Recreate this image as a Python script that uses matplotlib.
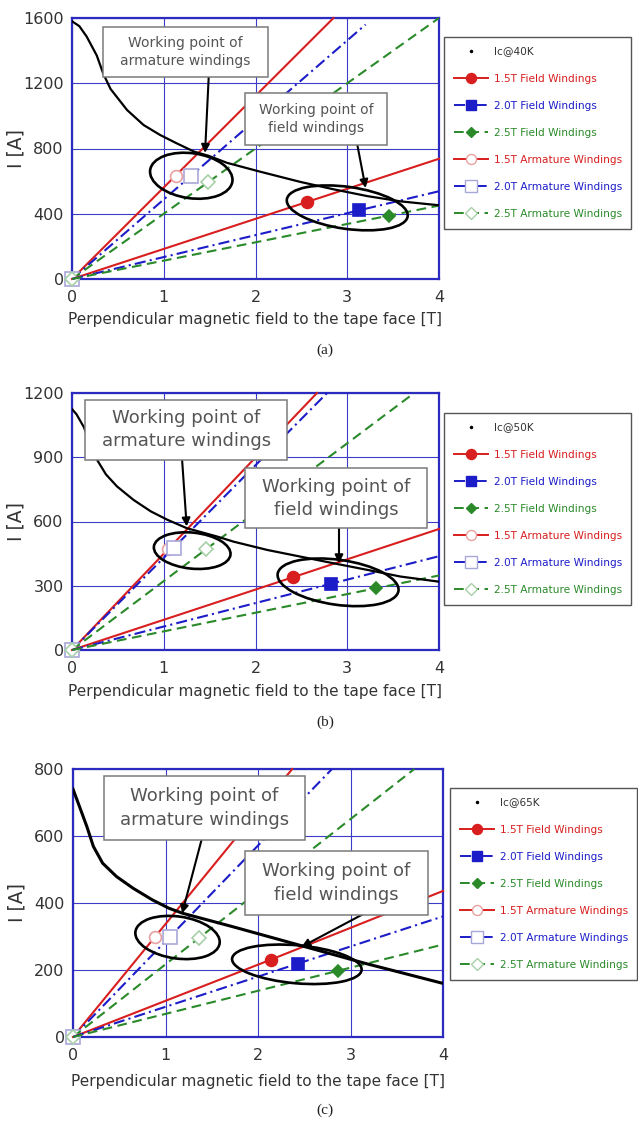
import matplotlib
matplotlib.use("Agg")
import matplotlib.pyplot as plt
import matplotlib.transforms as mtransforms
from matplotlib.patches import Ellipse, Rectangle
from matplotlib.lines import Line2D

plt.rcParams['font.family'] = ['DejaVu Sans']
plt.rcParams['lines.scale_dashes'] = False

DPI = 100

# ---------------- data ----------------
b_ticks = [0, 1, 2, 3, 4]
i_ticks_40 = [0, 400, 800, 1200, 1600]
i_ticks_50 = [0, 300, 600, 900, 1200]
i_ticks_65 = [0, 200, 400, 600, 800]

series_labels = ['1.5T Field Windings', '2.0T Field Windings', '2.5T Field Windings',
                 '1.5T Armature Windings', '2.0T Armature Windings', '2.5T Armature Windings']

# critical current of the tape vs perpendicular field
ic40_b = [0, 0.08, 0.16, 0.27, 0.34, 0.42, 0.60, 0.78, 0.96, 1.14, 1.33, 1.49, 1.69, 2.05, 2.49, 2.85, 3.22, 3.58, 4.0]
ic40_i = [1580, 1550, 1486, 1370, 1260, 1165, 1036, 944, 883, 832, 781, 755, 712, 658, 595, 550, 508, 476, 452]

ic50_b = [0, 0.05, 0.13, 0.20, 0.27, 0.37, 0.49, 0.67, 0.86, 1.04, 1.25, 1.58, 1.76, 2.13, 2.49, 2.85, 3.22, 3.58, 4.0]
ic50_i = [1125, 1100, 1040, 960, 890, 820, 764, 701, 647, 608, 569, 530, 506, 467, 436, 405, 374, 343, 319]

ic65_b = [0, 0.07, 0.15, 0.22, 0.32, 0.47, 0.65, 0.86, 1.04, 1.19, 1.73, 2.45, 3.17, 4.0]
ic65_i = [740, 688, 628, 569, 519, 479, 444, 409, 384, 369, 329, 274, 219, 160]

# load lines: origin, working point, end of drawn segment  (B [T], I [A])
f15_40_b = [0, 2.56, 4.0];  f15_40_i = [0, 472, 737]
f20_40_b = [0, 3.13, 4.0];  f20_40_i = [0, 421, 538]
f25_40_b = [0, 3.45, 4.0];  f25_40_i = [0, 388, 450]
a15_40_b = [0, 1.13, 2.85]; a15_40_i = [0, 634, 1600]
a20_40_b = [0, 1.30, 3.20]; a20_40_i = [0, 634, 1560]
a25_40_b = [0, 1.48, 4.0];  a25_40_i = [0, 592, 1600]

f15_50_b = [0, 2.41, 4.0];  f15_50_i = [0, 340, 565]
f20_50_b = [0, 2.82, 4.0];  f20_50_i = [0, 309, 438]
f25_50_b = [0, 3.31, 4.0];  f25_50_i = [0, 288, 348]
a15_50_b = [0, 1.05, 2.67]; a15_50_i = [0, 472, 1200]
a20_50_b = [0, 1.11, 2.78]; a20_50_i = [0, 478, 1200]
a25_50_b = [0, 1.46, 3.73]; a25_50_i = [0, 470, 1200]

f15_65_b = [0, 2.14, 4.0];  f15_65_i = [0, 231, 436]
f20_65_b = [0, 2.43, 4.0];  f20_65_i = [0, 219, 360]
f25_65_b = [0, 2.87, 4.0];  f25_65_i = [0, 198, 276]
a15_65_b = [0, 0.89, 2.37]; a15_65_i = [0, 300, 800]
a20_65_b = [0, 1.05, 2.80]; a20_65_i = [0, 300, 800]
a25_65_b = [0, 1.36, 3.69]; a25_65_i = [0, 295, 800]

# ---------------- styles ----------------
RED = '#d81e1e'
BLUE = '#1c1cc8'
GREEN = '#2a8a2a'
DASHDOT = (0, (8, 3, 1.5, 3))
DASHED = (0, (7, 4))

styles = [
    dict(color=RED, ls='-', marker='o', ms=8.5, mfc=RED, mec=RED),
    dict(color=BLUE, ls=DASHDOT, marker='s', ms=9, mfc=BLUE, mec=BLUE),
    dict(color=GREEN, ls=DASHED, marker='D', ms=6.5, mfc=GREEN, mec=GREEN),
    dict(color=RED, ls='-', marker='o', ms=8.5, mfc='white', mec='#e8a0a0'),
    dict(color=BLUE, ls=DASHDOT, marker='s', ms=9.5, mfc='white', mec='#a8a8d8'),
    dict(color=GREEN, ls=DASHED, marker='D', ms=7, mfc='white', mec='#a8d0a8'),
]
label_colors = ['#333333', RED, BLUE, GREEN, RED, BLUE, GREEN]

fig = plt.figure(figsize=(6.38, 11.21), dpi=DPI)
W, H = 638.0, 1121.0


def axes_px(left, right, top, bottom):
    return fig.add_axes([left / W, 1 - bottom / H, (right - left) / W, (bottom - top) / H])


def ring(ax, cx, cy, w_px, h_px, ang):
    tr = fig.dpi_scale_trans + mtransforms.ScaledTranslation(cx, cy, ax.transData)
    ax.add_patch(Ellipse((0, 0), w_px / DPI, h_px / DPI, angle=ang, transform=tr,
                         fill=False, lw=1.9, ec='black', zorder=6, clip_on=False))


def note(ax, x0, x1, y0, y1, text, fs, lsp):
    ax.add_patch(Rectangle((x0, y0), x1 - x0, y1 - y0, fc='white', ec='#7a7a7a',
                           lw=1.1, zorder=8, clip_on=False))
    ax.text((x0 + x1) / 2, (y0 + y1) / 2, text, ha='center', va='center', fontsize=fs,
            color='#555555', linespacing=lsp, zorder=9)


def arrow(ax, start, tip):
    ax.annotate('', xy=tip, xytext=start,
                arrowprops=dict(arrowstyle='-|>', color='black', lw=1.5,
                                mutation_scale=12, shrinkA=0, shrinkB=0),
                zorder=7)


def panel(ax, ymax, yticks, ic_b, ic_i, ic_lw, lines, ic_label, legend_anchor):
    ax.set_xlim(0, 4)
    ax.set_ylim(0, ymax)
    ax.set_xticks(b_ticks)
    ax.set_yticks(yticks)
    ax.grid(True, color='#3c3cc8', lw=0.8)
    ax.set_axisbelow(True)
    for sp in ax.spines.values():
        sp.set_color('#2b2bbf')
        sp.set_linewidth(1.6)
    ax.tick_params(length=0, labelsize=11.5, labelcolor='#333333')
    ax.tick_params(axis='x', pad=8)
    ax.tick_params(axis='y', pad=6)

    for k, ((bx, iy), st) in enumerate(zip(lines, styles)):
        every = [1] if k < 3 else [0, 1]
        ax.plot(bx, iy, lw=1.5, mew=1.2, markevery=every, zorder=4 if k < 3 else 3,
                clip_on=False, **st)
    ax.plot(ic_b, ic_i, color='black', lw=ic_lw, zorder=5)

    handles = [Line2D([], [], ls='none', marker='.', color='black', ms=3)]
    for st in styles:
        s = dict(st)
        s['ms'] = s['ms'] * 0.85
        handles.append(Line2D([], [], lw=1.4, mew=1.0, **s))
    ax.legend(handles, [ic_label] + series_labels, loc='upper left',
              bbox_to_anchor=legend_anchor, borderaxespad=0, fontsize=7.6,
              labelcolor=label_colors, frameon=True, fancybox=False,
              edgecolor='#555555', framealpha=1, numpoints=1, handlelength=3.3,
              handletextpad=0.5, labelspacing=1.62, borderpad=0.9)

    ax.set_xlabel('Perpendicular magnetic field to the tape face [T]', fontsize=11,
                  color='#333333', va='center')
    ax.set_ylabel('I [A]', fontsize=13.5, color='#333333', va='center')


# ---------------- (a) 40 K ----------------
ax_a = axes_px(72, 439, 18, 279)
panel(ax_a, 1600, i_ticks_40, ic40_b, ic40_i, 1.6,
      [(f15_40_b, f15_40_i), (f20_40_b, f20_40_i), (f25_40_b, f25_40_i),
       (a15_40_b, a15_40_i), (a20_40_b, a20_40_i), (a25_40_b, a25_40_i)],
      'Ic@40K', (1.014, 0.927))
ax_a.xaxis.set_label_coords(0.5, -0.157)
ax_a.yaxis.set_label_coords(-0.153, 0.5)
ring(ax_a, 1.30, 633, 83, 45, -8)
ring(ax_a, 3.00, 436, 122, 42, -8)
arrow(ax_a, (1.49, 1240), (1.45, 773))
arrow(ax_a, (3.11, 822), (3.20, 558))
note(ax_a, 0.338, 2.136, 1238, 1545, 'Working point of\narmature windings', 10, 1.4)
note(ax_a, 1.885, 3.433, 822, 1140, 'Working point of\nfield windings', 10, 1.4)

# ---------------- (b) 50 K ----------------
ax_b = axes_px(72, 439, 393, 650)
panel(ax_b, 1200, i_ticks_50, ic50_b, ic50_i, 1.6,
      [(f15_50_b, f15_50_i), (f20_50_b, f20_50_i), (f25_50_b, f25_50_i),
       (a15_50_b, a15_50_i), (a20_50_b, a20_50_i), (a25_50_b, a25_50_i)],
      'Ic@50K', (1.014, 0.922))
ax_b.xaxis.set_label_coords(0.5, -0.162)
ax_b.yaxis.set_label_coords(-0.153, 0.5)
ring(ax_b, 1.31, 464, 77, 36, -6)
ring(ax_b, 2.90, 316, 122, 45, -8)
arrow(ax_b, (1.20, 888), (1.25, 577))
arrow(ax_b, (2.91, 569), (2.91, 405))
note(ax_b, 0.145, 2.345, 888, 1169, 'Working point of\narmature windings', 13, 1.35)
note(ax_b, 1.89, 3.87, 569, 849, 'Working point of\nfield windings', 13, 1.35)

# ---------------- (c) 65 K ----------------
ax_c = axes_px(73, 443, 769, 1037)
panel(ax_c, 800, i_ticks_65, ic65_b, ic65_i, 2.2,
      [(f15_65_b, f15_65_i), (f20_65_b, f20_65_i), (f25_65_b, f25_65_i),
       (a15_65_b, a15_65_i), (a20_65_b, a20_65_i), (a25_65_b, a25_65_i)],
      'Ic@65K', (1.019, 0.929))
ax_c.xaxis.set_label_coords(0.5, -0.167)
ax_c.yaxis.set_label_coords(-0.152, 0.5)
ring(ax_c, 1.13, 297, 85, 42, -8)
ring(ax_c, 2.42, 217, 130, 38, -5)
arrow(ax_c, (1.39, 589), (1.18, 369))
arrow(ax_c, (3.39, 404), (2.47, 269))
note(ax_c, 0.331, 2.507, 589, 778, 'Working point of\narmature windings', 13, 1.45)
note(ax_c, 1.86, 3.84, 364, 554, 'Working point of\nfield windings', 13, 1.45)

# ---------------- captions ----------------
for cap, y in [('(a)', 350), ('(b)', 722), ('(c)', 1110)]:
    fig.text(325 / W, 1 - y / H, cap, ha='center', va='center', fontsize=11,
             family=['Liberation Serif', 'DejaVu Serif'], color='#222222')

fig.savefig('out.png', dpi=DPI)
